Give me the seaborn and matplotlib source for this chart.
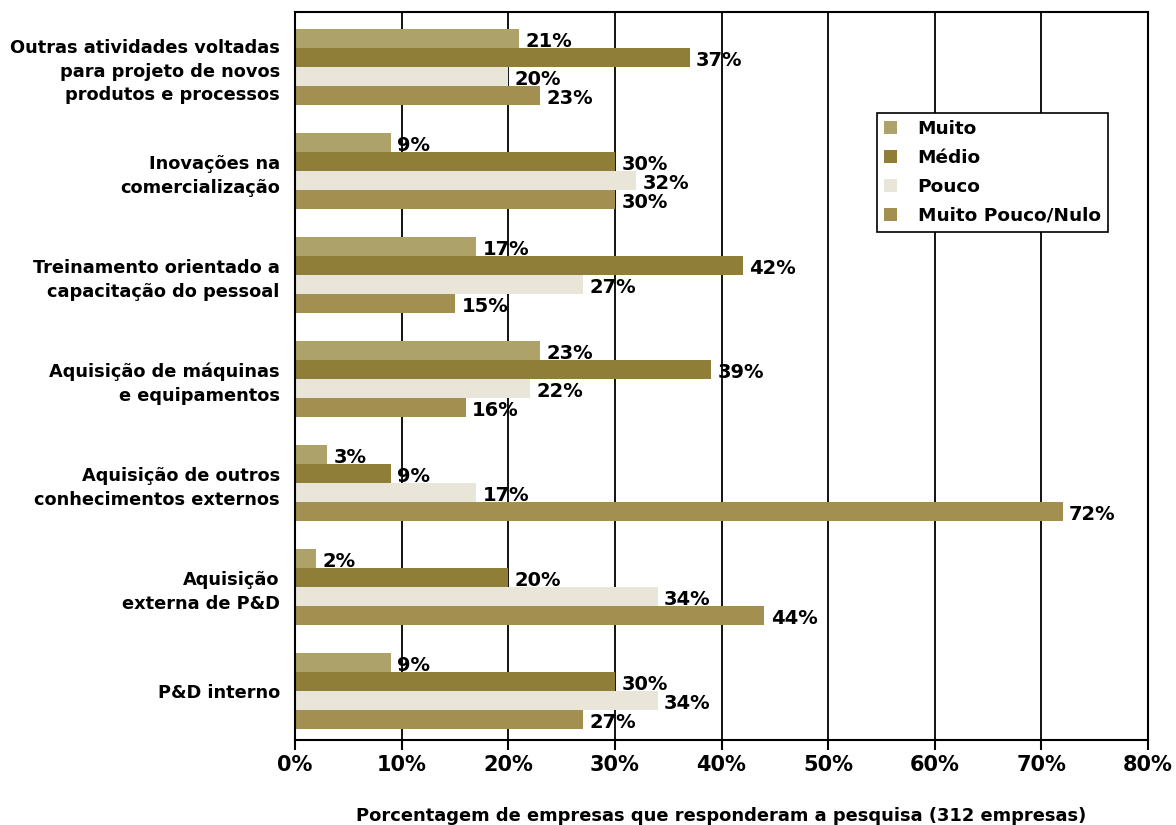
import matplotlib
matplotlib.use("Agg")
import matplotlib.pyplot as plt
import seaborn as sns
import pandas as pd

categories = [
    "Outras atividades voltadas\npara projeto de novos\nprodutos e processos",
    "Inovações na\ncomercialização",
    "Treinamento orientado a\ncapacitação do pessoal",
    "Aquisição de máquinas\ne equipamentos",
    "Aquisição de outros\nconhecimentos externos",
    "Aquisição\nexterna de P&D",
    "P&D interno",
]
levels = ["Muito", "Médio", "Pouco", "Muito Pouco/Nulo"]
muito = [21, 9, 17, 23, 3, 2, 9]
medio = [37, 30, 42, 39, 9, 20, 30]
pouco = [20, 32, 27, 22, 17, 34, 34]
muito_pouco = [23, 30, 15, 16, 72, 44, 27]
x_ticks = [0, 10, 20, 30, 40, 50, 60, 70, 80]
x_label = "Porcentagem de empresas que responderam a pesquisa (312 empresas)"

colors = ["#ada26a", "#8f7e38", "#e9e5d8", "#a39050"]

rows = []
for lvl, vals in zip(levels, [muito, medio, pouco, muito_pouco]):
    for cat, v in zip(categories, vals):
        rows.append({"cat": cat, "nivel": lvl, "valor": v})
df = pd.DataFrame(rows)

sns.set_style("white")
plt.rcParams["font.family"] = ["DejaVu Sans"]
plt.rcParams["font.weight"] = "bold"
plt.rcParams["text.color"] = "black"
plt.rcParams["xtick.color"] = "black"
plt.rcParams["ytick.color"] = "black"
plt.rcParams["axes.labelcolor"] = "black"

fig = plt.figure(figsize=(11.76, 8.25), dpi=100)
ax = fig.add_axes([0.2509, 0.1030, 0.9762 - 0.2509, 0.9855 - 0.1030])

sns.barplot(data=df, y="cat", x="valor", hue="nivel", order=categories,
            hue_order=levels, palette=colors, orient="h", width=0.73,
            linewidth=0, saturation=1, ax=ax)

# value labels to the right of each bar
for container in ax.containers:
    for bar in container:
        w = bar.get_width()
        ax.text(w + 0.6, bar.get_y() + bar.get_height() / 2 + 0.03,
                f"{w:.0f}%", va="center", ha="left", fontsize=14,
                fontweight="bold", color="black")

ax.set_xlim(0, 80)
ax.set_ylim(len(categories) - 0.53, -0.53)
ax.set_xticks(x_ticks)
ax.set_xticklabels([f"{t}%" for t in x_ticks], fontsize=15, fontweight="bold")
ax.tick_params(axis="x", direction="out", length=7, width=1.5, pad=4, bottom=True)
ax.tick_params(axis="y", length=0, pad=11, labelsize=12.8)
for lbl in ax.get_yticklabels():
    lbl.set_fontweight("bold")
    lbl.set_ha("right")
    lbl.set_multialignment("right")
    lbl.set_linespacing(1.4)

ax.grid(axis="x", color="black", linewidth=1.3)
ax.set_axisbelow(True)
for s in ax.spines.values():
    s.set_visible(True)
    s.set_color("black")
    s.set_linewidth(1.5)

ax.set_ylabel("")
ax.set_xlabel(x_label, fontsize=12.9, fontweight="bold", labelpad=23)

handles, labels_ = ax.get_legend_handles_labels()
ax.legend(handles, labels_, loc="upper left", bbox_to_anchor=(0.7457, 0.863),
          bbox_transform=fig.transFigure, frameon=True, fancybox=False,
          edgecolor="black", framealpha=1, title=None, borderaxespad=0,
          handlelength=0.7, handleheight=0.7, handletextpad=1.1,
          labelspacing=0.58, borderpad=0.4, prop={"weight": "bold", "size": 13.3})
ax.get_legend().get_frame().set_linewidth(1.2)

fig.savefig("out.png", dpi=100)
